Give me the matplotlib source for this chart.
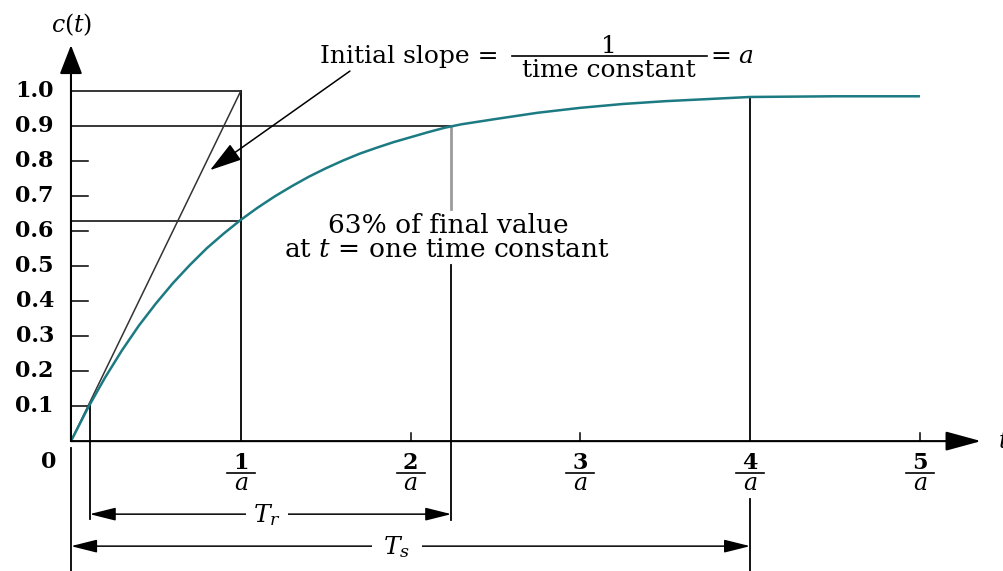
import matplotlib.pyplot as plt

plt.rcParams['font.family'] = 'DejaVu Serif'
plt.rcParams['mathtext.fontset'] = 'dejavuserif'

# step response of a first-order system, time in units of 1/a
t_vals = [0.0, 0.1, 0.2, 0.3, 0.4, 0.5, 0.6, 0.7, 0.8, 0.9, 1.0,
          1.1, 1.2, 1.3, 1.4, 1.5, 1.6, 1.7, 1.8, 1.9, 2.0,
          2.1, 2.2, 2.3, 2.5, 2.75, 3.0, 3.25, 3.5, 3.75, 4.0, 4.5, 5.0]
c_vals = [0.0, 0.095, 0.181, 0.259, 0.330, 0.393, 0.451, 0.503, 0.551, 0.593, 0.632,
          0.667, 0.699, 0.728, 0.755, 0.779, 0.801, 0.821, 0.838, 0.854, 0.868,
          0.882, 0.895, 0.905, 0.920, 0.938, 0.952, 0.963, 0.971, 0.977, 0.983, 0.985, 0.985]

y_ticks = [0.1, 0.2, 0.3, 0.4, 0.5, 0.6, 0.7, 0.8, 0.9, 1.0]
x_ticks = [1, 2, 3, 4, 5]

t_10 = 0.11      # c = 0.1
t_90 = 2.24      # c = 0.9
c_tau = 0.63     # value at one time constant
t_settle = 4.0

K = 'black'
TEAL = '#1c7a82'
GRAY = '#9a9a9a'

fig = plt.figure(figsize=(10.04, 5.71), dpi=100)
ax = fig.add_axes([0, 0, 1, 1])
ax.set_xlim(-0.418, 5.495)
ax.set_ylim(-0.371, 1.26)
ax.axis('off')

# axes with arrow heads
ax.annotate('', xy=(5.36, 0), xytext=(0, 0),
            arrowprops=dict(arrowstyle='-|>,head_length=1.1,head_width=0.3',
                            mutation_scale=20, lw=1.5, color=K, shrinkA=0, shrinkB=0))
ax.annotate('', xy=(0, 1.131), xytext=(0, 0),
            arrowprops=dict(arrowstyle='-|>,head_length=0.9,head_width=0.35',
                            mutation_scale=20, lw=1.5, color=K, shrinkA=0, shrinkB=0))

# ticks
for y in y_ticks[1:8]:
    ax.plot([0, 0.1], [y, y], color=K, lw=1.1)
for x in [2, 3, 5]:
    ax.plot([x, x], [0, 0.024], color=K, lw=1.1)

for y in y_ticks:
    ax.text(-0.1, y, f'{y:.1f}', ha='right', va='center', fontsize=16, fontweight='bold')
ax.text(-0.13, -0.06, '0', ha='center', va='center', fontsize=16, fontweight='bold')

# tick labels k/a drawn as stacked fractions
for x in x_ticks:
    ax.text(x, -0.080, str(x), ha='center', va='baseline', fontsize=16, fontweight='bold')
    ax.plot([x - 0.0825, x + 0.0825], [-0.0914, -0.0914], color=K, lw=1.2)
    ax.text(x, -0.140, '$a$', ha='center', va='baseline', fontsize=17)

ax.text(0.006, 1.19, '$c(t)$', ha='center', va='center', fontsize=17)
ax.text(5.46, 0, '$t$', ha='left', va='center', fontsize=17)

# guide lines
ax.plot([0, 1], [1.0, 1.0], color=K, lw=1.1)
ax.plot([0, t_90], [0.9, 0.9], color=K, lw=1.1)
ax.plot([0, 1], [c_tau, c_tau], color=K, lw=1.1)
ax.plot([0, t_10], [0.1, 0.1], color=K, lw=1.1)
ax.plot([1, 1], [0, 1.0], color=K, lw=1.3)
ax.plot([0, 1], [0, 1.0], color='#333333', lw=1.1)

ax.plot([t_10, t_10], [0.1, -0.223], color=K, lw=1.3)
ax.plot([0, 0], [-0.02, -0.371], color=K, lw=1.3)
ax.plot([t_90, t_90], [0.9, 0.663], color=GRAY, lw=2.0)
ax.plot([t_90, t_90], [0.503, -0.226], color=K, lw=1.3)
ax.plot([t_settle, t_settle], [0.983, 0], color=K, lw=1.3)
ax.plot([t_settle, t_settle], [-0.166, -0.371], color=K, lw=1.3)

# response curve
ax.plot(t_vals, c_vals, color=TEAL, lw=1.8, solid_capstyle='butt')

# initial slope note
ax.annotate('', xy=(0.819, 0.774), xytext=(1.643, 1.057),
            arrowprops=dict(arrowstyle='-|>,head_length=1.0,head_width=0.3',
                            mutation_scale=20, lw=1.1, color=K, shrinkA=0, shrinkB=0))
ax.text(2.515, 1.08, 'Initial slope =', ha='right', va='baseline', fontsize=18)
ax.text(3.168, 1.109, '1', ha='center', va='baseline', fontsize=18)
ax.plot([2.597, 3.746], [1.099, 1.099], color=K, lw=1.2)
ax.text(3.168, 1.040, 'time constant', ha='center', va='baseline', fontsize=18)
ax.text(3.763, 1.08, '= $a$', ha='left', va='baseline', fontsize=18)

ax.text(2.22, 0.594, '63% of final value', ha='center', va='baseline', fontsize=19)
ax.text(2.214, 0.526, 'at $t$ = one time constant', ha='center', va='baseline', fontsize=19)

# rise time and settling time spans
span = dict(arrowstyle='<|-|>,head_length=0.8,head_width=0.2',
            mutation_scale=20, lw=1.1, color=K, shrinkA=0, shrinkB=0)
ax.annotate('', xy=(t_90, -0.2086), xytext=(t_10, -0.2086), arrowprops=span)
ax.annotate('', xy=(t_settle, -0.30), xytext=(0, -0.30), arrowprops=span)
ax.text(1.154, -0.211, '$T_r$', ha='center', va='center', fontsize=18,
        bbox=dict(facecolor='white', edgecolor='none', pad=5))
ax.text(1.92, -0.303, '$T_s$', ha='center', va='center', fontsize=18,
        bbox=dict(facecolor='white', edgecolor='none', pad=8))

fig.savefig('out.png', dpi=100)
